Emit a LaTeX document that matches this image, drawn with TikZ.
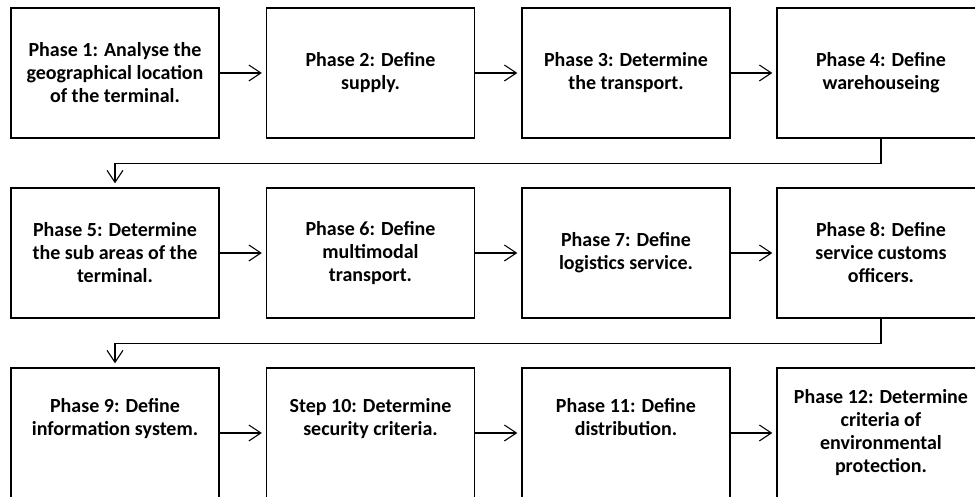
\documentclass[tikz,border=0pt]{standalone}
\usepackage{fontspec}
\setmainfont{Carlito}
\usetikzlibrary{arrows.meta}
\begin{document}
\begin{tikzpicture}[x=1pt,y=1pt,
  phase/.style={draw,line width=1.3pt,minimum width=208pt,minimum height=130pt,align=center,
    font=\bfseries\fontsize{20}{23}\selectfont},
  lowtext/.style={text depth=32pt},
  flow/.style={-{Straight Barb[length=12pt,width=16pt,line width=1.1pt]},line width=1.1pt,shorten >=4pt}]
\useasboundingbox (0,0) rectangle (975,497);
% row 1
\node[phase] (P1) at (115,424) {Phase 1: Analyse the\\geographical location\\of the terminal.};
\node[phase] (P2) at (370.5,424) {Phase 2: Define\\supply.};
\node[phase] (P3) at (626,424) {Phase 3: Determine\\the transport.};
\node[phase] (P4) at (881,424) {Phase 4: Define\\warehouseing};
% row 2
\node[phase] (P5) at (115,244) {Phase 5: Determine\\the sub areas of the\\terminal.};
\node[phase] (P6) at (370.5,244) {Phase 6: Define\\multimodal\\transport.};
\node[phase] (P7) at (626,244) {Phase 7: Define\\logistics service.};
\node[phase] (P8) at (881,244) {Phase 8: Define\\service customs\\officers.};
% row 3
\node[phase,lowtext] (P9) at (115,64) {Phase 9: Define\\information system.};
\node[phase,lowtext] (P10) at (370.5,64) {Step 10: Determine\\security criteria.};
\node[phase,lowtext] (P11) at (626,64) {Phase 11: Define\\distribution.};
\node[phase] (P12) at (881,64) {Phase 12: Determine\\criteria of\\environmental\\protection.};
% arrows
\draw[flow] (P1) -- (P2);
\draw[flow] (P2) -- (P3);
\draw[flow] (P3) -- (P4);
\draw[flow] (P4.south) -- ++(0,-25) -| (P5.north);
\draw[flow] (P5) -- (P6);
\draw[flow] (P6) -- (P7);
\draw[flow] (P7) -- (P8);
\draw[flow] (P8.south) -- ++(0,-25) -| (P9.north);
\draw[flow] (P9) -- (P10);
\draw[flow] (P10) -- (P11);
\draw[flow] (P11) -- (P12);
\end{tikzpicture}
\end{document}
